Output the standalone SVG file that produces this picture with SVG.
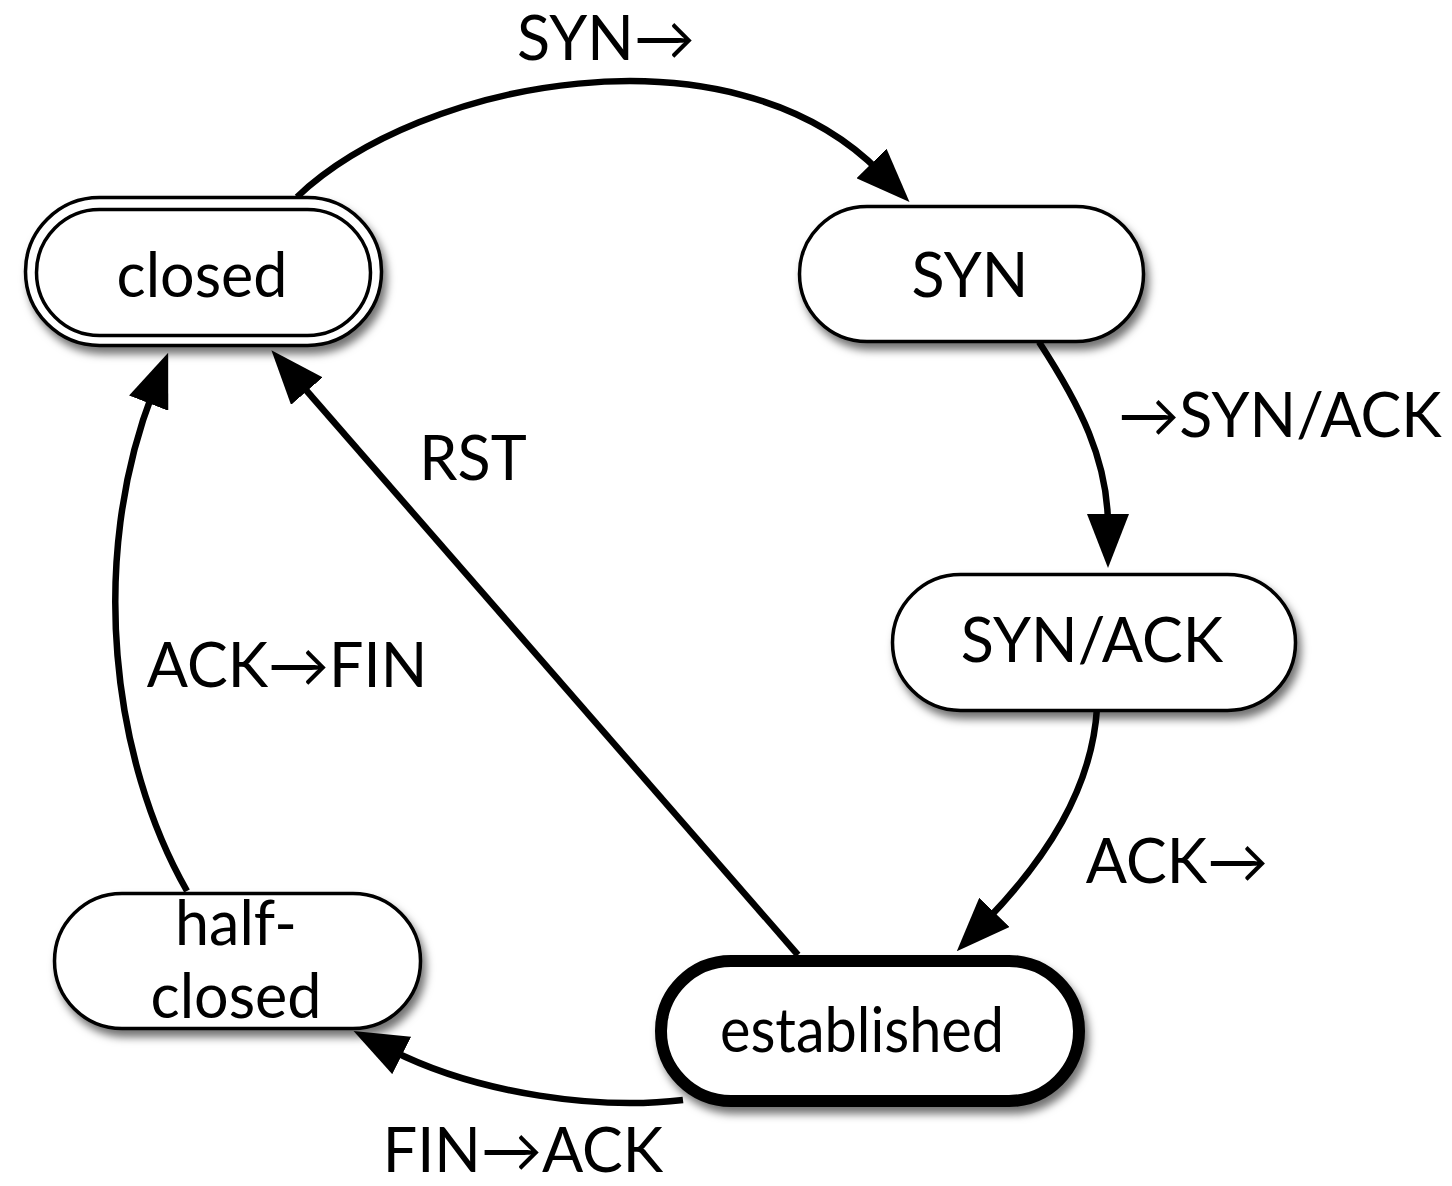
<svg xmlns="http://www.w3.org/2000/svg" width="1452" height="1186" viewBox="0 0 1452 1186">
<style>
  .node { fill: #ffffff; stroke: #000000; stroke-width: 3.5; }
  .thick { stroke-width: 12; }
  .lbl { font-family: Lato, "Open Sans", "DejaVu Sans", sans-serif; font-size: 61px; fill: #000000; text-anchor: middle; }
  .edge { fill: none; stroke: #000000; stroke-width: 6.5; marker-end: url(#arrow); }
</style>
<defs>
  <filter id="shadow" x="-10%" y="-20%" width="125%" height="150%">
    <feDropShadow dx="4" dy="7" stdDeviation="4" flood-color="#000000" flood-opacity="0.55"/>
  </filter>
  <marker id="arrow" markerUnits="userSpaceOnUse" markerWidth="54" markerHeight="42" refX="12" refY="21" orient="auto" viewBox="0 0 54 42">
    <path d="M0,0 L54,21 L0,42 z" fill="#000000"/>
  </marker>
</defs>
<rect width="1452" height="1186" fill="#ffffff"/>

<g id="connectors">
  <path class="edge" d="M297,197 C420,80 730,20 880,172"/>
  <path class="edge" d="M1039,342 C1080,405 1108,460 1108,526"/>
  <path class="edge" d="M1097,708 C1092,790 1045,860 986,921"/>
  <path class="edge" d="M798,955 L299,382"/>
  <path class="edge" d="M683,1100 C600,1110 480,1095 391,1050"/>
  <path class="edge" d="M187,891 C112,760 88,560 153,392"/>
</g>

<g id="node-closed">
  <rect class="node" x="25.5" y="197.5" width="356" height="148" rx="74" filter="url(#shadow)"/>
  <rect class="node" x="36.5" y="209.5" width="334" height="126" rx="63"/>
  <text class="lbl" x="202" y="297">closed</text>
</g>

<g id="node-syn">
  <rect class="node" x="799.5" y="206.5" width="344" height="135" rx="67.5" filter="url(#shadow)"/>
  <text class="lbl" x="970" y="297">SYN</text>
</g>

<g id="node-synack">
  <rect class="node" x="892.5" y="574.5" width="403" height="136" rx="68" filter="url(#shadow)"/>
  <text class="lbl" x="1092" y="662">SYN/ACK</text>
</g>

<g id="node-established">
  <rect class="node thick" x="661" y="961" width="418" height="140" rx="70" filter="url(#shadow)"/>
  <text class="lbl" x="862" y="1052" textLength="284" lengthAdjust="spacingAndGlyphs">established</text>
</g>

<g id="node-halfclosed">
  <rect class="node" x="54.5" y="893.5" width="366" height="135" rx="67.5" filter="url(#shadow)"/>
  <text class="lbl" x="236" y="945">half-</text>
  <text class="lbl" x="236" y="1018">closed</text>
</g>

<g id="edge-labels">
  <text class="lbl" x="606" y="60">SYN→</text>
  <text class="lbl" x="1280" y="437">→SYN/ACK</text>
  <text class="lbl" x="473" y="480">RST</text>
  <text class="lbl" x="287" y="687">ACK→FIN</text>
  <text class="lbl" x="1177" y="883">ACK→</text>
  <text class="lbl" x="523" y="1172">FIN→ACK</text>
</g>
</svg>
